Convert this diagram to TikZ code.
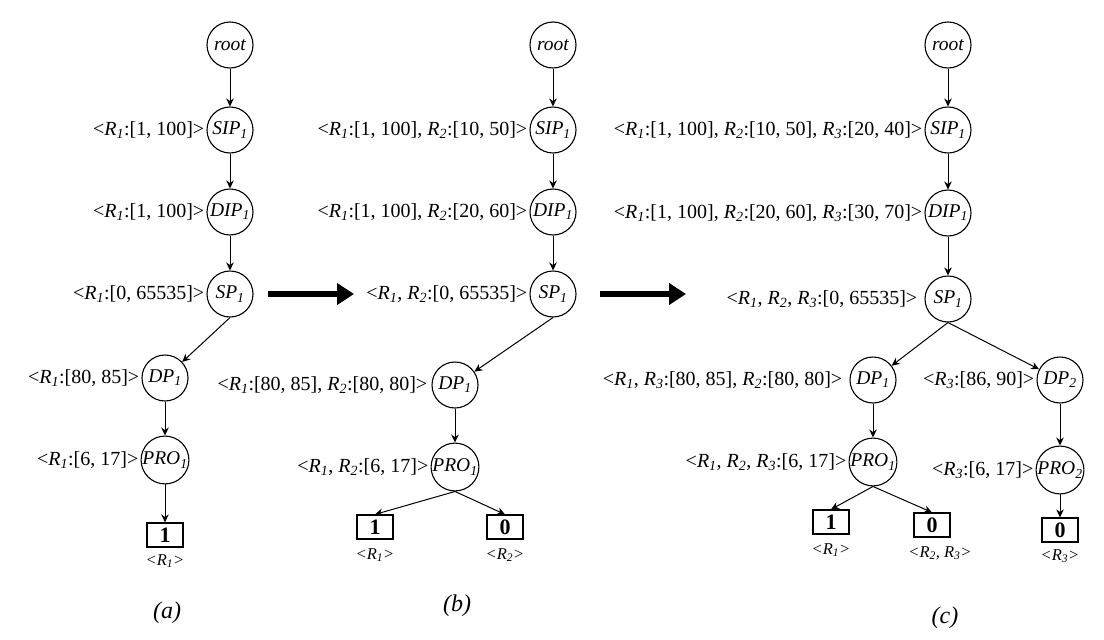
\documentclass[tikz,border=0pt]{standalone}
\usepackage{fontspec}
\setmainfont{Liberation Serif}
\usetikzlibrary{arrows.meta,positioning}
\newcommand{\Rr}[1]{\textit{R}\textsubscript{\textit{#1}}}
\newcommand{\Sb}[2]{#1\textsubscript{#2}}
\begin{document}
\begin{tikzpicture}[x=1pt,y=-1pt,
  st/.style={circle, draw, line width=1.1pt, minimum size=46pt, inner sep=0pt, font=\fontsize{19.5}{21}\selectfont\itshape},
  lf/.style={font=\fontsize{20}{22}\selectfont, inner sep=1pt},
  bx/.style={draw, line width=1.2pt, minimum width=36pt, minimum height=24pt, inner sep=0pt, font=\fontsize{22}{22}\selectfont\bfseries},
  sm/.style={font=\fontsize{16.5}{18}\selectfont\itshape, inner sep=0pt},
  captxt/.style={font=\fontsize{24}{26}\selectfont\itshape, inner sep=0pt},
  ar/.style={-{Stealth[length=8pt,width=7.5pt]}, line width=1pt},
  big/.style={-{Triangle[length=17pt,width=21pt]}, line width=6.5pt}]
\useasboundingbox (0,0) rectangle (1104,640);
% ---------------- (a)
\node[st] (a0) at (230,45) {root};
\node[st] (a1) at (230,130) {\Sb{SIP}{1}};
\node[st] (a2) at (230,212) {\Sb{DIP}{1}};
\node[st] (a3) at (230,294) {\Sb{SP}{1}};
\node[st] (a4) at (165,378) {\Sb{DP}{1}};
\node[st] (a5) at (165,460) {\Sb{PRO}{1}};
\node[bx] (a6) at (165,535) {1};
\node[sm] (a6l) at (165,561) {<\Rr{1}>};
\node[captxt] (acap) at (167,613) {(a)};
\node[lf, left=1pt of a1] (a1l) {<\Rr{1}:[1, 100]>};
\node[lf, left=1pt of a2] (a2l) {<\Rr{1}:[1, 100]>};
\node[lf, left=1pt of a3] (a3l) {<\Rr{1}:[0, 65535]>};
\node[lf, left=1pt of a4] (a4l) {<\Rr{1}:[80, 85]>};
\node[lf, left=1pt of a5] (a5l) {<\Rr{1}:[6, 17]>};
\draw[ar] (a0) -- (a1);
\draw[ar] (a1) -- (a2);
\draw[ar] (a2) -- (a3);
\draw[ar] (a3.south) -- (a4);
\draw[ar] (a4) -- (a5);
\draw[ar] (a5) -- (a6);
% ---------------- (b)
\node[st] (b0) at (553,45) {root};
\node[st] (b1) at (553,130) {\Sb{SIP}{1}};
\node[st] (b2) at (553,212) {\Sb{DIP}{1}};
\node[st] (b3) at (553,294) {\Sb{SP}{1}};
\node[st] (b4) at (455,385) {\Sb{DP}{1}};
\node[st] (b5) at (455,467) {\Sb{PRO}{1}};
\node[bx] (b6) at (375,527) {1};
\node[bx] (b7) at (505,527) {0};
\node[sm] (b6l) at (375,555) {<\Rr{1}>};
\node[sm] (b7l) at (505,555) {<\Rr{2}>};
\node[captxt] (bcap) at (457,606) {(b)};
\node[lf, left=1pt of b1] (b1l) {<\Rr{1}:[1, 100], \Rr{2}:[10, 50]>};
\node[lf, left=1pt of b2] (b2l) {<\Rr{1}:[1, 100], \Rr{2}:[20, 60]>};
\node[lf, left=1pt of b3] (b3l) {<\Rr{1}, \Rr{2}:[0, 65535]>};
\node[lf, left=3pt of b4] (b4l) {<\Rr{1}:[80, 85], \Rr{2}:[80, 80]>};
\node[lf, left=1pt of b5] (b5l) {<\Rr{1}, \Rr{2}:[6, 17]>};
\draw[ar] (b0) -- (b1);
\draw[ar] (b1) -- (b2);
\draw[ar] (b2) -- (b3);
\draw[ar] (b3.south) -- (b4);
\draw[ar] (b4) -- (b5);
\draw[ar] (b5.south) -- (b6.north);
\draw[ar] (b5.south) -- (b7.north);
% ---------------- (c)
\node[st] (c0) at (948,45) {root};
\node[st] (c1) at (948,130) {\Sb{SIP}{1}};
\node[st] (c2) at (948,213) {\Sb{DIP}{1}};
\node[st] (c3) at (948,299) {\Sb{SP}{1}};
\node[st] (c4) at (873,380) {\Sb{DP}{1}};
\node[st] (c5) at (1060,380) {\Sb{DP}{2}};
\node[st] (c6) at (873,462) {\Sb{PRO}{1}};
\node[st] (c7) at (1060,470) {\Sb{PRO}{2}};
\node[bx] (c8) at (831,522) {1};
\node[bx] (c9) at (932,525) {0};
\node[bx] (c10) at (1060,530) {0};
\node[sm] (c8l) at (831,550) {<\Rr{1}>};
\node[sm] (c9l) at (940,553) {<\Rr{2}, \Rr{3}>};
\node[sm] (c10l) at (1060,556) {<\Rr{3}>};
\node[captxt] (ccap) at (945,618) {(c)};
\node[lf, left=1pt of c1] (c1l) {<\Rr{1}:[1, 100], \Rr{2}:[10, 50], \Rr{3}:[20, 40]>};
\node[lf, left=1pt of c2] (c2l) {<\Rr{1}:[1, 100], \Rr{2}:[20, 60], \Rr{3}:[30, 70]>};
\node[lf, left=6pt of c3] (c3l) {<\Rr{1}, \Rr{2}, \Rr{3}:[0, 65535]>};
\node[lf, left=6pt of c4] (c4l) {<\Rr{1}, \Rr{3}:[80, 85], \Rr{2}:[80, 80]>};
\node[lf, left=1pt of c5] (c5l) {<\Rr{3}:[86, 90]>};
\node[lf, left=1pt of c6] (c6l) {<\Rr{1}, \Rr{2}, \Rr{3}:[6, 17]>};
\node[lf, left=1pt of c7] (c7l) {<\Rr{3}:[6, 17]>};
\draw[ar] (c0) -- (c1);
\draw[ar] (c1) -- (c2);
\draw[ar] (c2) -- (c3);
\draw[ar] (c3.south) -- (c4);
\draw[ar] (c3.south) -- (c5);
\draw[ar] (c4) -- (c6);
\draw[ar] (c5) -- (c7);
\draw[ar] (c6.south) -- (c8.north);
\draw[ar] (c6.south) -- (c9.north);
\draw[ar] (c7) -- (c10);
% ---------------- transition arrows
\coordinate (t1s) at (268,294);
\coordinate (t1e) at (354,294);
\coordinate (t2s) at (600,294);
\coordinate (t2e) at (686,294);
\draw[big] (t1s) -- (t1e);
\draw[big] (t2s) -- (t2e);
\end{tikzpicture}
\end{document}
